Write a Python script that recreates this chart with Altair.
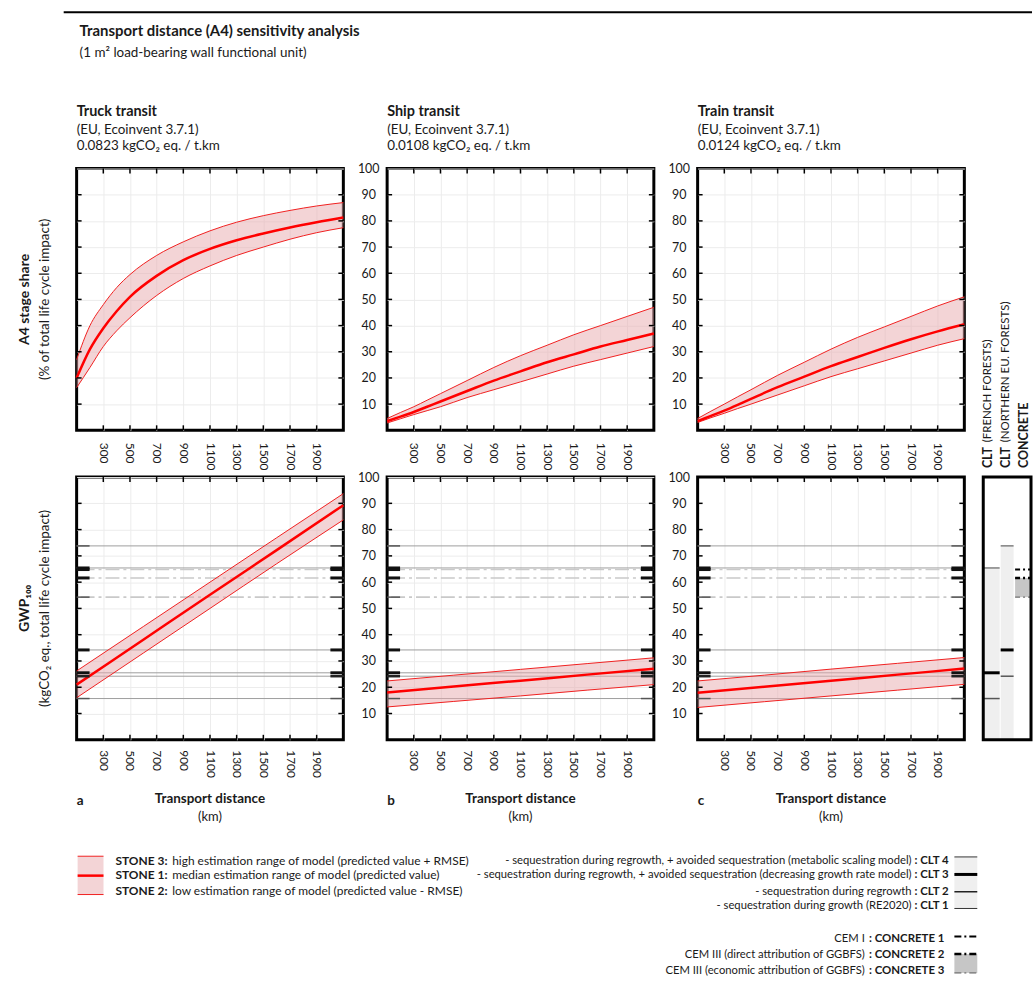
import altair as alt
import pandas as pd

FONT = "Lato"
INK = "#1a1a1a"

# ---------------- data ----------------
dist_curve = [100, 200, 300, 400, 500, 700, 900, 1100, 1300, 1500, 1700, 1900, 2100]
truck_share_low = [16.3, 24.0, 32.0, 38.0, 43.0, 51.5, 58.0, 62.8, 66.8, 70.0, 73.0, 75.5, 77.4]
truck_share_med = [20.0, 31.0, 39.0, 45.5, 51.0, 59.0, 65.0, 69.3, 72.6, 75.2, 77.5, 79.5, 81.3]
truck_share_high = [27.0, 40.0, 48.0, 54.5, 59.5, 66.8, 72.0, 76.2, 79.5, 82.0, 84.0, 85.7, 87.0]
ship_share_low = [2.8, 4.4, 6.0, 7.5, 9.0, 12.5, 15.5, 18.5, 21.5, 24.5, 27.0, 29.5, 32.0]
ship_share_med = [3.5, 5.2, 7.0, 9.0, 11.0, 15.0, 19.0, 22.5, 26.0, 29.0, 32.0, 34.5, 37.0]
ship_share_high = [4.5, 6.8, 9.0, 11.5, 14.0, 19.0, 24.0, 28.5, 32.5, 36.5, 40.0, 43.5, 47.0]
train_share_low = [3.0, 4.8, 6.5, 8.3, 10.0, 13.5, 17.0, 20.5, 23.5, 26.5, 29.5, 32.5, 35.0]
train_share_med = [3.5, 5.5, 7.5, 9.7, 12.0, 16.5, 20.5, 24.5, 28.0, 31.5, 34.8, 37.8, 40.5]
train_share_high = [4.5, 7.3, 10.0, 12.8, 15.5, 21.0, 26.0, 31.0, 35.5, 39.5, 43.5, 47.5, 51.0]

dist_line = [100, 600, 1100, 1600, 2100]
truck_gwp_low = [16.0, 33.0, 50.0, 67.0, 83.7]
truck_gwp_med = [21.0, 38.1, 55.2, 72.2, 89.3]
truck_gwp_high = [26.2, 43.1, 60.0, 76.9, 93.7]
ship_gwp_low = [12.5, 14.6, 16.7, 18.9, 21.0]
ship_gwp_med = [18.0, 20.3, 22.5, 24.8, 27.0]
ship_gwp_high = [22.4, 24.6, 26.8, 29.0, 31.2]
train_gwp_low = [12.3, 14.5, 16.7, 18.9, 21.1]
train_gwp_med = [17.9, 20.2, 22.5, 24.8, 27.1]
train_gwp_high = [22.4, 24.6, 26.9, 29.1, 31.3]

x_tick_values = [300, 500, 700, 900, 1100, 1300, 1500, 1700, 1900]
y_tick_values = [10, 20, 30, 40, 50, 60, 70, 80, 90, 100]
y_inner_ticks = [10, 20, 30, 40, 50, 60, 70, 80, 90]

clt_levels = [73.8, 65.4, 34.2, 25.5, 24.2, 15.7]
clt_tick_width = [1.5, 3.0, 3.0, 3.0, 2.5, 1.5]
clt_tick_color = ["#555555", "#111111", "#111111", "#111111", "#222222", "#555555"]
concrete_levels = [64.8, 61.6, 54.3]
concrete_tick_width = [3.0, 3.0, 1.5]
concrete_tick_color = ["#111111", "#111111", "#555555"]

# strip (right-hand summary column)
strip_head_bold = ["CLT", "CLT", "CONCRETE"]
strip_head_text = ["(FRENCH FORESTS)", "(NORTHERN EU. FORESTS)", ""]
strip_left = [0.0, 17.5, 32.0]
strip_right = [16.5, 30.5, 48.0]
strip_center = [5.0, 23.0, 41.0]
strip_box_low = [0.0, 0.0, 54.3]
strip_box_high = [65.4, 73.8, 61.6]
strip_box_fill = ["#efefef", "#efefef", "#c6c6c6"]
strip_line_col = [0, 0, 0, 1, 1, 1]
strip_line_val = [65.4, 25.5, 15.7, 73.8, 34.2, 24.2]
strip_line_w = [1.0, 3.0, 1.5, 1.0, 3.0, 1.5]
strip_line_c = ["#444444", "#000000", "#555555", "#444444", "#000000", "#555555"]
strip_dash_val = [64.8, 61.6, 54.3]
strip_dash_w = [2.0, 2.5, 1.0]
strip_dash_c = ["#000000", "#000000", "#555555"]

W, HT, HB = 268, 263, 264
XS = alt.Scale(domain=[100, 2100], nice=False, zero=False)
YS = alt.Scale(domain=[0, 100], nice=False, zero=True)
RED = "#ff0000"
EDGE_RED = "#f02020"


def txt(s, x, y, size=13, bold=False, align="left", baseline="alphabetic", angle=0, color=INK):
    kw = dict(font=FONT, fontSize=size, fontWeight="bold" if bold else "normal",
              align=align, baseline=baseline, color=color)
    if angle:
        kw["angle"] = angle
    return alt.Chart(pd.DataFrame({"t": [s]})).mark_text(**kw).encode(
        x=alt.value(x), y=alt.value(y), text="t:N")


def make_xaxis(pad):
    return alt.Axis(values=x_tick_values, format="d", labelAngle=90, labelAlign="left",
                    labelBaseline="middle", labelPadding=pad, ticks=False, tickSize=0,
                    domain=False, grid=True, gridColor="#ececec", gridWidth=1, title=None,
                    labelFont=FONT, labelFontSize=12, labelColor=INK, labelFlush=False)


def make_yaxis(labels=True):
    return alt.Axis(orient="right", values=y_tick_values, labels=labels, labelAlign="center",
                    labelBaseline="middle", labelPadding=25, ticks=False, tickSize=0,
                    domain=False, grid=True, gridColor="#ececec", gridWidth=1, title=None,
                    labelFont=FONT, labelFontSize=12.5, labelColor=INK, labelFlush=False)


def panel_layers(d, lo, med, hi, h, xaxis, yaxis, refs):
    X = lambda f: alt.X(f"{f}:Q", scale=XS, axis=xaxis)
    Y = lambda f: alt.Y(f"{f}:Q", scale=YS, axis=yaxis)
    band = pd.DataFrame({"d": d, "lo": lo, "med": med, "hi": hi})
    layers = [alt.Chart(band).mark_line(opacity=0).encode(x=X("d"), y=Y("med"))]
    if refs:
        clt = pd.DataFrame({"v": clt_levels, "w": clt_tick_width, "c": clt_tick_color})
        con = pd.DataFrame({"v": concrete_levels, "w": concrete_tick_width, "c": concrete_tick_color})
        layers.append(alt.Chart(clt).mark_rule(color="#9d9d9d", strokeWidth=1).encode(y=Y("v")))
        layers.append(alt.Chart(con).mark_rule(color="#c9c9c9", strokeWidth=1.6,
                                               strokeDash=[14, 4, 3, 4]).encode(y=Y("v")))
    interp = "monotone"
    layers.append(alt.Chart(band).mark_area(color="#e7a9ad", opacity=0.5, interpolate=interp).encode(
        x=X("d"), y=Y("lo"), y2="hi"))
    layers.append(alt.Chart(band).mark_line(color=EDGE_RED, strokeWidth=1, interpolate=interp).encode(
        x=X("d"), y=Y("hi")))
    layers.append(alt.Chart(band).mark_line(color=EDGE_RED, strokeWidth=1, interpolate=interp).encode(
        x=X("d"), y=Y("lo")))
    layers.append(alt.Chart(band).mark_line(color=RED, strokeWidth=2.5, interpolate=interp).encode(
        x=X("d"), y=Y("med")))
    if refs:
        for df in (clt, con):
            for x0, x1 in ((0, 13), (W - 13, W)):
                layers.append(alt.Chart(df).mark_rule().encode(
                    y=Y("v"), x=alt.value(x0), x2=alt.value(x1),
                    strokeWidth=alt.StrokeWidth("w:Q", scale=None),
                    color=alt.Color("c:N", scale=None)))
    yt = pd.DataFrame({"v": y_inner_ticks})
    xt = pd.DataFrame({"t": x_tick_values})
    layers.append(alt.Chart(yt).mark_rule(color="black", strokeWidth=1.5).encode(
        y=Y("v"), x=alt.value(0), x2=alt.value(5)))
    layers.append(alt.Chart(yt).mark_rule(color="black", strokeWidth=1.5).encode(
        y=Y("v"), x=alt.value(W - 5), x2=alt.value(W)))
    layers.append(alt.Chart(xt).mark_rule(color="black", strokeWidth=1.5).encode(
        x=X("t"), y=alt.value(0), y2=alt.value(5)))
    layers.append(alt.Chart(xt).mark_rule(color="black", strokeWidth=1.5).encode(
        x=X("t"), y=alt.value(h - 5), y2=alt.value(h)))
    return layers


# ---------- text decorations ----------
def head(title, sub1, sub2):
    return [txt(title, 0, -52.5, 14.5, True), txt(sub1, 0, -34.5, 13.5), txt(sub2, 0, -18.5, 13.5)]


def foot(letter):
    return [txt(letter, 0, 330, 13.5, True),
            txt("Transport distance", W / 2, 328, 13.5, True, "center"),
            txt("(km)", W / 2, 346, 13, False, "center")]


top_a_extra = [
    alt.Chart(pd.DataFrame({"t": [0]})).mark_rule(color="white", strokeWidth=1).encode(
        x=alt.value(-74.5), x2=alt.value(-73.5), y=alt.value(-164.5)),
    alt.Chart(pd.DataFrame({"t": [0]})).mark_rule(color="black", strokeWidth=2).encode(
        x=alt.value(-13), x2=alt.value(960), y=alt.value(-157)),
    txt("Transport distance (A4) sensitivity analysis", 3, -133.5, 15, True),
    txt("(1 m\u00b2 load-bearing wall functional unit)", 3, -112, 13.5),
    txt("A4 stage share", -52, HT / 2, 14, True, "center", "middle", 270),
    txt("(% of total life cycle impact)", -32, HT / 2, 13.5, False, "center", "middle", 270),
] + head("Truck transit", "(EU, Ecoinvent 3.7.1)", "0.0823 kgCO\u2082 eq. / t.km")
top_b_extra = head("Ship transit", "(EU, Ecoinvent 3.7.1)", "0.0108 kgCO\u2082 eq. / t.km")
top_c_extra = head("Train transit", "(EU, Ecoinvent 3.7.1)", "0.0124 kgCO\u2082 eq. / t.km")

one = pd.DataFrame({"t": [0]})
leg = []
leg.append(alt.Chart(one).mark_rect(color="#e7a9ad", opacity=0.5).encode(
    x=alt.value(1), x2=alt.value(27), y=alt.value(381), y2=alt.value(420)))
for yy, sw in ((381, 1), (400.5, 2.5), (419.5, 1)):
    leg.append(alt.Chart(one).mark_rule(color=RED if sw > 2 else EDGE_RED, strokeWidth=sw).encode(
        x=alt.value(1), x2=alt.value(27), y=alt.value(yy)))
stone_bold = ["STONE 3:", "STONE 1:", "STONE 2:"]
stone_text = ["high estimation range of model (predicted value + RMSE)",
              "median estimation range of model (predicted value)",
              "low estimation range of model (predicted value - RMSE)"]
for i, yy in enumerate([385.7, 400.3, 415.7]):
    leg.append(txt(stone_bold[i], 39, yy, 12, True, "left", "middle"))
    leg.append(txt(stone_text[i], 96, yy, 12, False, "left", "middle"))

clt_text = ["- sequestration during regrowth, + avoided sequestration (metabolic scaling model)",
            "- sequestration during regrowth, + avoided sequestration (decreasing growth rate model)",
            "- sequestration during regrowth",
            "- sequestration during growth (RE2020)"]
clt_bold = [": CLT 4", ": CLT 3", ": CLT 2", ": CLT 1"]
for i, yy in enumerate([386, 400, 416.5, 431.5]):
    leg.append(txt(clt_text[i], 839, yy, 11.3, False, "right", "middle"))
    leg.append(txt(clt_bold[i], 842, yy, 11.5, True, "left", "middle"))
leg.append(alt.Chart(one).mark_rect(color="#efefef").encode(
    x=alt.value(882), x2=alt.value(905), y=alt.value(381.7), y2=alt.value(433.5)))
for yy, sw, cc in ((381.7, 1, "#333333"), (399.3, 3, "#000000"), (416.7, 1.5, "#222222"),
                   (433.5, 1, "#333333")):
    leg.append(alt.Chart(one).mark_rule(color=cc, strokeWidth=sw).encode(
        x=alt.value(882), x2=alt.value(905), y=alt.value(yy)))

con_text = ["CEM I", "CEM III (direct attribution of GGBFS)", "CEM III (economic attribution of GGBFS)"]
con_bold = [": CONCRETE 1", ": CONCRETE 2", ": CONCRETE 3"]
for i, yy in enumerate([464.3, 480, 496]):
    leg.append(txt(con_text[i], 792, yy, 11.3, False, "right", "middle"))
    leg.append(txt(con_bold[i], 872, yy, 11.5, True, "right", "middle"))
leg.append(alt.Chart(one).mark_rect(color="#c6c6c6").encode(
    x=alt.value(882), x2=alt.value(905), y=alt.value(479.3), y2=alt.value(498.3)))
for yy, sw, cc in ((461.7, 2, "#000000"), (479.3, 2.5, "#000000"), (498.3, 1, "#555555")):
    leg.append(alt.Chart(one).mark_rule(color=cc, strokeWidth=sw, strokeDash=[7, 3, 2, 3]).encode(
        x=alt.value(882), x2=alt.value(905), y=alt.value(yy)))

bot_a_extra = [
    txt("GWP\u2081\u2080\u2080", -52, HB / 2, 14, True, "center", "middle", 270),
    txt("(kgCO\u2082 eq., total life cycle impact)", -32, HB / 2, 13.5, False, "center", "middle", 270),
] + foot("a") + leg

# ---------- strip (drawn beside the lower-right panel, own x scale) ----------
SX = alt.Scale(domain=[0, 48], range=[287, 335], nice=False, zero=False)
SXE = lambda f: alt.X(f"{f}:Q", scale=SX, axis=None)
SYE = lambda f: alt.Y(f"{f}:Q", scale=YS, axis=None)
boxes = pd.DataFrame({"x0": strip_left, "x1": strip_right, "y0": strip_box_low,
                      "y1": strip_box_high, "f": strip_box_fill})
slines = pd.DataFrame({"x0": [strip_left[c] for c in strip_line_col],
                       "x1": [strip_right[c] for c in strip_line_col],
                       "v": strip_line_val, "w": strip_line_w, "c": strip_line_c})
sdash = pd.DataFrame({"x0": [strip_left[2]] * 3, "x1": [strip_right[2]] * 3,
                      "v": strip_dash_val, "w": strip_dash_w, "c": strip_dash_c})
frame = pd.DataFrame({"x0": [0.0], "x1": [48.0], "y0": [0.0], "y1": [100.0]})
heads = pd.DataFrame({"xc": strip_center, "b": strip_head_bold, "n": strip_head_text})
strip_layers = [
    alt.Chart(boxes).mark_rect().encode(
        x=SXE("x0"), x2="x1", y=SYE("y0"), y2="y1", color=alt.Color("f:N", scale=None)),
    alt.Chart(slines).mark_rule().encode(
        x=SXE("x0"), x2="x1", y=SYE("v"),
        strokeWidth=alt.StrokeWidth("w:Q", scale=None), color=alt.Color("c:N", scale=None)),
    alt.Chart(sdash).mark_rule(strokeDash=[5, 3, 2, 3]).encode(
        x=SXE("x0"), x2="x1", y=SYE("v"),
        strokeWidth=alt.StrokeWidth("w:Q", scale=None), color=alt.Color("c:N", scale=None)),
    alt.Chart(frame).mark_rect(fillOpacity=0, stroke="black", strokeWidth=3).encode(
        x=SXE("x0"), x2="x1", y=SYE("y0"), y2="y1"),
    alt.Chart(heads).mark_text(font=FONT, fontSize=12.5, fontWeight="bold", angle=270, align="left",
                               baseline="middle", color=INK).encode(
        x=SXE("xc"), y=alt.value(-9), text="b:N"),
    alt.Chart(heads).mark_text(font=FONT, fontSize=11.5, angle=270, align="left",
                               baseline="middle", color=INK).encode(
        x=SXE("xc"), y=alt.value(-35), text="n:N"),
]

# ---------- panels ----------
xa_top = make_xaxis(12)
xa_bot = make_xaxis(10)


def build(layers, extra, h):
    return alt.layer(*(layers + extra)).properties(width=W, height=h)


pa = build(panel_layers(dist_curve, truck_share_low, truck_share_med, truck_share_high, HT, xa_top, make_yaxis(), False), top_a_extra, HT)
pb = build(panel_layers(dist_curve, ship_share_low, ship_share_med, ship_share_high, HT, xa_top, make_yaxis(), False), top_b_extra, HT)
pc = build(panel_layers(dist_curve, train_share_low, train_share_med, train_share_high, HT, xa_top, make_yaxis(False), False), top_c_extra, HT)
qa = build(panel_layers(dist_line, truck_gwp_low, truck_gwp_med, truck_gwp_high, HB, xa_bot, make_yaxis(), True), bot_a_extra, HB)
qb = build(panel_layers(dist_line, ship_gwp_low, ship_gwp_med, ship_gwp_high, HB, xa_bot, make_yaxis(), True), foot("b"), HB)
qc_main = alt.layer(*(panel_layers(dist_line, train_gwp_low, train_gwp_med, train_gwp_high, HB, xa_bot,
                                   make_yaxis(False), True) + foot("c")))
qc_strip = alt.layer(*strip_layers)
qc = alt.layer(qc_main, qc_strip).resolve_scale(x="independent").properties(width=W, height=HB)

chart = alt.concat(pa, pb, pc, qa, qb, qc, columns=3, spacing={"row": 47, "column": 44},
                   bounds="flush").properties(padding=0, background="white"
                                              ).configure_view(stroke="black", strokeWidth=3)

chart.save("out.html", embed_options={"renderer": "svg", "actions": False})
